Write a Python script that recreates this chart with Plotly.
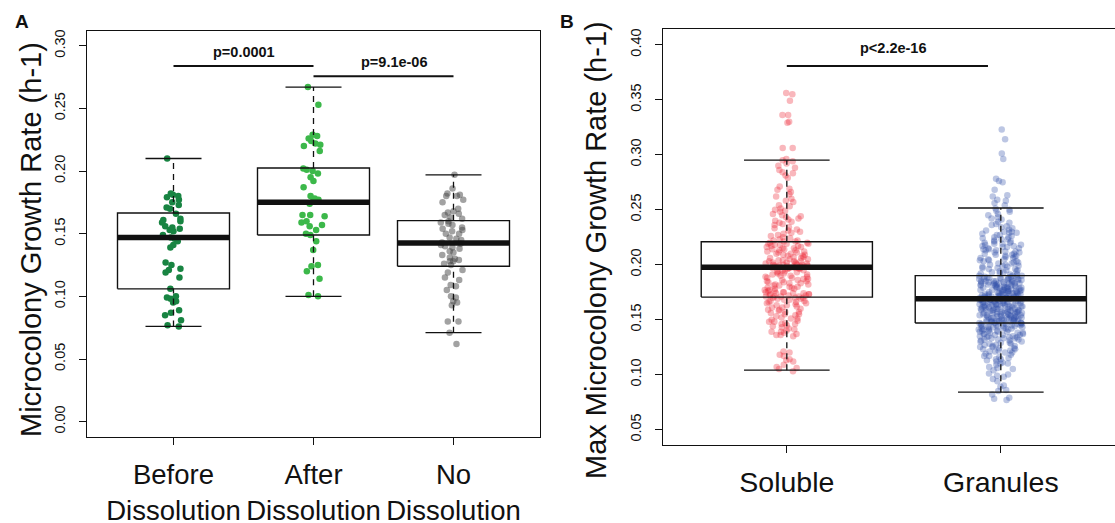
import plotly.graph_objects as go

W, H = 1115, 523
FONT = "Liberation Sans, Arial, Helvetica, sans-serif"
INK = "#111111"

# ---------------- Panel A data ----------------
a_categories = ["Before<br>Dissolution", "After<br>Dissolution", "No<br>Dissolution"]
a_positions = [1, 2, 3]
before_vals = [0.210, 0.182, 0.181, 0.180, 0.179, 0.177, 0.175, 0.173, 0.171, 0.170,
               0.166, 0.162, 0.161, 0.160, 0.159, 0.156, 0.155, 0.154, 0.153, 0.152,
               0.149, 0.147, 0.146, 0.144, 0.141, 0.139, 0.127, 0.125, 0.122, 0.121,
               0.119, 0.115, 0.106, 0.100, 0.099, 0.098, 0.096, 0.095, 0.089, 0.087,
               0.085, 0.081, 0.077, 0.076]
after_vals = [0.267, 0.253, 0.229, 0.228, 0.226, 0.224, 0.222, 0.221, 0.220, 0.216,
              0.202, 0.201, 0.200, 0.198, 0.195, 0.192, 0.187, 0.180, 0.178, 0.177,
              0.176, 0.174, 0.165, 0.165, 0.164, 0.160, 0.159, 0.157, 0.156, 0.153,
              0.150, 0.149, 0.144, 0.137, 0.125, 0.124, 0.120, 0.114, 0.101, 0.100]
no_vals = [0.197, 0.186, 0.182, 0.181, 0.180, 0.180, 0.177, 0.175, 0.170, 0.168,
           0.167, 0.166, 0.165, 0.163, 0.162, 0.160, 0.159, 0.158, 0.157, 0.155,
           0.154, 0.153, 0.152, 0.150, 0.150, 0.147, 0.146, 0.145, 0.143, 0.142,
           0.141, 0.140, 0.139, 0.138, 0.136, 0.135, 0.133, 0.131, 0.130, 0.129,
           0.128, 0.128, 0.126, 0.125, 0.121, 0.119, 0.115, 0.113, 0.109, 0.108,
           0.105, 0.100, 0.099, 0.096, 0.095, 0.093, 0.080, 0.080, 0.071, 0.062]
a_colors = ["rgba(24,132,66,1)", "rgba(60,184,74,1)", "rgba(70,70,70,0.5)"]
# box statistics
a_lower = [0.076, 0.100, 0.071]
a_q1 = [0.106, 0.149, 0.124]
a_med = [0.147, 0.175, 0.1425]
a_q3 = [0.1665, 0.2024, 0.1604]
a_upper = [0.210, 0.267, 0.197]
a_yticks = [0.00, 0.05, 0.10, 0.15, 0.20, 0.25, 0.30]
a_tick_text = ["0.00", "0.05", "0.10", "0.15", "0.20", "0.25", "0.30"]
a_pvals = ["p=0.0001", "p=9.1e-06"]
a_bar_from = [1, 2]
a_bar_to = [2, 3]
a_bar_y = [0.2838, 0.2756]
a_text_x = [1.5, 2.58]
a_text_y = [0.2953, 0.2873]

# ---------------- Panel B data ----------------
b_categories = ["Soluble", "Granules"]
b_positions = [1, 2]
soluble_vals = [
    0.356, 0.355, 0.349, 0.336, 0.336, 0.330, 0.329, 0.306, 0.306,
    0.296, 0.295, 0.294, 0.292, 0.290, 0.288, 0.286, 0.284, 0.283, 0.281, 0.279,
    0.271, 0.269, 0.268, 0.266, 0.264, 0.262, 0.260, 0.258, 0.257,
    0.254, 0.253, 0.251, 0.250, 0.249, 0.248, 0.246, 0.245,
    0.244, 0.243, 0.242, 0.241, 0.240, 0.239, 0.238, 0.237, 0.236,
    0.234, 0.233, 0.232, 0.231, 0.230, 0.229, 0.228, 0.227, 0.226, 0.225, 0.224,
    0.223, 0.222, 0.222, 0.221, 0.221,
    0.220, 0.220, 0.219, 0.219, 0.219, 0.218, 0.218, 0.217, 0.217, 0.216, 0.216,
    0.215, 0.215, 0.214, 0.214, 0.213, 0.213, 0.212, 0.212, 0.211, 0.211, 0.210,
    0.210, 0.209, 0.209, 0.208, 0.208, 0.207, 0.207, 0.206, 0.206, 0.205, 0.205,
    0.204, 0.204, 0.203, 0.203, 0.203, 0.202, 0.202, 0.202, 0.201, 0.201, 0.201,
    0.200, 0.200, 0.200, 0.200, 0.199, 0.199, 0.199, 0.199, 0.198, 0.198, 0.198,
    0.198, 0.198, 0.197, 0.197, 0.197, 0.197, 0.197,
    0.197, 0.196, 0.196, 0.195, 0.195, 0.194, 0.194, 0.193, 0.193, 0.192, 0.192,
    0.191, 0.191, 0.190, 0.190, 0.189, 0.189, 0.188, 0.188, 0.187, 0.187, 0.186,
    0.186, 0.185, 0.185, 0.184, 0.184, 0.183, 0.183, 0.182, 0.182, 0.181, 0.181,
    0.180, 0.180, 0.179, 0.179, 0.178, 0.178, 0.177, 0.177, 0.176, 0.176, 0.175,
    0.175, 0.175, 0.174, 0.174, 0.174, 0.173, 0.173, 0.173, 0.172, 0.172, 0.172,
    0.171, 0.171, 0.171, 0.171, 0.170, 0.170, 0.170,
    0.169, 0.169, 0.168, 0.168, 0.167, 0.167, 0.166, 0.166, 0.165, 0.165, 0.164,
    0.163, 0.163, 0.162, 0.161, 0.161, 0.160, 0.159, 0.159, 0.158, 0.157, 0.157,
    0.156, 0.155, 0.155, 0.154, 0.153, 0.152, 0.151, 0.151, 0.150, 0.149, 0.148,
    0.148, 0.147, 0.146, 0.146, 0.145, 0.144, 0.143, 0.142, 0.141, 0.140, 0.139,
    0.139, 0.138, 0.137, 0.136, 0.136, 0.135,
    0.121, 0.120, 0.118, 0.117, 0.114, 0.113, 0.112, 0.109, 0.107, 0.106, 0.105, 0.103]
granules_vals = [
    0.323, 0.314, 0.301, 0.296, 0.278, 0.276, 0.275, 0.268, 0.263, 0.262, 0.259,
    0.258, 0.256, 0.254,
    0.251, 0.250, 0.249, 0.248, 0.246, 0.245, 0.243, 0.242, 0.241,
    0.239, 0.238, 0.237, 0.236, 0.235, 0.234, 0.233, 0.232, 0.231, 0.230, 0.230,
    0.229, 0.229, 0.228, 0.227, 0.227, 0.226, 0.225, 0.225, 0.224, 0.223, 0.223,
    0.222, 0.221, 0.221, 0.220, 0.220,
    0.219, 0.219, 0.218, 0.218, 0.217, 0.217, 0.216, 0.216, 0.215, 0.215, 0.214,
    0.214, 0.213, 0.213, 0.212, 0.212, 0.211, 0.211, 0.210, 0.210,
    0.209, 0.209, 0.208, 0.208, 0.207, 0.207, 0.206, 0.206, 0.205, 0.205, 0.204,
    0.204, 0.203, 0.203, 0.202, 0.202, 0.201, 0.201, 0.200, 0.200,
    0.199, 0.199, 0.198, 0.198, 0.197, 0.197, 0.196, 0.196, 0.195, 0.195, 0.194,
    0.194, 0.193, 0.193, 0.192, 0.192, 0.191, 0.191, 0.190, 0.190,
    0.190, 0.189, 0.189, 0.189, 0.188, 0.188, 0.188, 0.188, 0.187, 0.187, 0.187,
    0.187, 0.187, 0.186, 0.186, 0.186, 0.186, 0.185, 0.185, 0.185, 0.185, 0.185,
    0.184, 0.184, 0.184, 0.184, 0.183, 0.183, 0.183, 0.183, 0.183, 0.182, 0.182,
    0.182, 0.182, 0.182, 0.181, 0.181, 0.181, 0.181, 0.180, 0.180, 0.180, 0.180,
    0.180, 0.179, 0.179, 0.179, 0.179, 0.179, 0.178, 0.178, 0.178, 0.178, 0.177,
    0.177, 0.177, 0.177, 0.177, 0.176, 0.176, 0.176, 0.176, 0.176, 0.175, 0.175,
    0.175, 0.175, 0.175, 0.174, 0.174, 0.174, 0.174, 0.174, 0.173, 0.173, 0.173,
    0.173, 0.173, 0.172, 0.172, 0.172, 0.172, 0.172, 0.171, 0.171, 0.171, 0.171,
    0.171, 0.170, 0.170, 0.170, 0.170, 0.170, 0.170, 0.169, 0.169, 0.169, 0.169,
    0.169, 0.169,
    0.168, 0.168, 0.168, 0.168, 0.168, 0.167, 0.167, 0.167, 0.167, 0.167, 0.166,
    0.166, 0.166, 0.166, 0.166, 0.165, 0.165, 0.165, 0.165, 0.165, 0.164, 0.164,
    0.164, 0.164, 0.164, 0.163, 0.163, 0.163, 0.163, 0.163, 0.162, 0.162, 0.162,
    0.162, 0.162, 0.161, 0.161, 0.161, 0.161, 0.161, 0.160, 0.160, 0.160, 0.160,
    0.160, 0.159, 0.159, 0.159, 0.159, 0.159, 0.158, 0.158, 0.158, 0.158, 0.158,
    0.157, 0.157, 0.157, 0.157, 0.157, 0.156, 0.156, 0.156, 0.156, 0.156, 0.155,
    0.155, 0.155, 0.155, 0.155, 0.154, 0.154, 0.154, 0.154, 0.154, 0.153, 0.153,
    0.153, 0.153, 0.153, 0.152, 0.152, 0.152, 0.152, 0.152, 0.151, 0.151, 0.151,
    0.151, 0.151, 0.150, 0.150, 0.150, 0.150, 0.150, 0.149, 0.149, 0.149, 0.149,
    0.149, 0.148, 0.148, 0.148, 0.148, 0.148, 0.147, 0.147, 0.147, 0.147, 0.147,
    0.146, 0.146, 0.146, 0.146, 0.145, 0.145, 0.145, 0.145, 0.144, 0.144, 0.144,
    0.144, 0.143, 0.143, 0.143, 0.143, 0.142, 0.142, 0.142, 0.142, 0.141, 0.141,
    0.141, 0.141, 0.140, 0.140, 0.140, 0.139, 0.139, 0.139, 0.138, 0.138, 0.138,
    0.137, 0.137, 0.137, 0.136, 0.136, 0.136, 0.135, 0.135, 0.135, 0.134, 0.134,
    0.134, 0.133, 0.133, 0.133, 0.132, 0.132, 0.132, 0.131, 0.131, 0.130, 0.130,
    0.129, 0.129, 0.128, 0.128, 0.127, 0.127, 0.126, 0.126, 0.125, 0.125, 0.124,
    0.124, 0.123, 0.123, 0.122, 0.122, 0.121, 0.121, 0.120, 0.120, 0.119, 0.118,
    0.117, 0.117, 0.116, 0.115, 0.114, 0.114, 0.113, 0.112, 0.111, 0.110, 0.110,
    0.109, 0.107, 0.106, 0.105, 0.104, 0.101, 0.100, 0.099, 0.098, 0.096,
    0.094, 0.090, 0.089, 0.086, 0.085, 0.082, 0.079, 0.078, 0.077]
b_colors = ["rgba(236,36,52,0.33)", "rgba(52,82,170,0.33)"]
b_lower = [0.104, 0.084]
b_q1 = [0.1705, 0.147]
b_med = [0.1976, 0.169]
b_q3 = [0.2208, 0.190]
b_upper = [0.295, 0.2515]
b_yticks = [0.05, 0.10, 0.15, 0.20, 0.25, 0.30, 0.35, 0.40]
b_tick_text = ["0.05", "0.10", "0.15", "0.20", "0.25", "0.30", "0.35", "0.40"]
b_pval = "p<2.2e-16"
b_bar_from, b_bar_to, b_bar_y = 1, 1.94, 0.3806
b_text_x, b_text_y = 1.5, 0.3967

# ---------------- layout geometry (pixels) ----------------
A_L, A_R, A_T, A_B = 86.7, 540.3, 30.7, 436.7
B_L, B_T, B_B = 662.7, 29.3, 445.0
B_UNIT = 214.0  # px per category step in panel B


def px(x):
    return x / W


def py(y):
    return 1 - y / H


fig = go.Figure()


def add_r_boxes(positions, lower, q1, med, q3, upper, xa, ya):
    bw, cw = 0.4, 0.2
    rx, ry, mx, my, wx, wy, cx, cy = [], [], [], [], [], [], [], []
    for p, lo, a, m, b, hi in zip(positions, lower, q1, med, q3, upper):
        rx += [p - bw, p + bw, p + bw, p - bw, p - bw, None]
        ry += [a, a, b, b, a, None]
        mx += [p - bw, p + bw, None]
        my += [m, m, None]
        wx += [p, p, None, p, p, None]
        wy += [b, hi, None, lo, a, None]
        cx += [p - cw, p + cw, None, p - cw, p + cw, None]
        cy += [hi, hi, None, lo, lo, None]
    common = dict(mode="lines", showlegend=False, hoverinfo="skip", xaxis=xa, yaxis=ya)
    fig.add_trace(go.Scatter(x=wx, y=wy, line=dict(color=INK, width=1.3, dash="6px,5px"), **common))
    fig.add_trace(go.Scatter(x=cx, y=cy, line=dict(color=INK, width=1.3), **common))
    fig.add_trace(go.Scatter(x=rx, y=ry, line=dict(color=INK, width=1.4), **common))
    fig.add_trace(go.Scatter(x=mx, y=my, line=dict(color=INK, width=5.5), **common))


def add_points(vals, pos, color, jitter, xa, ya, size):
    fig.add_trace(go.Box(
        y=vals, x0=pos, boxpoints="all", jitter=jitter, pointpos=0, width=0.8,
        line=dict(width=0, color="rgba(0,0,0,0)"), fillcolor="rgba(0,0,0,0)",
        marker=dict(color=color, size=size, line=dict(width=0)),
        showlegend=False, hoverinfo="y", xaxis=xa, yaxis=ya))


# Panel A
for vals, pos, col in zip([before_vals, after_vals, no_vals], a_positions, a_colors):
    add_points(vals, pos, col, 0.24, "x", "y", 6.5)
add_r_boxes(a_positions, a_lower, a_q1, a_med, a_q3, a_upper, "x", "y")

# Panel B
for vals, pos, col in zip([soluble_vals, granules_vals], b_positions, b_colors):
    add_points(vals, pos, col, 0.26, "x2", "y2", 6.5)
add_r_boxes(b_positions, b_lower, b_q1, b_med, b_q3, b_upper, "x2", "y2")

# significance bars
sig_x, sig_y = [], []
for x0, x1, yv in zip(a_bar_from, a_bar_to, a_bar_y):
    sig_x += [x0, x1, None]
    sig_y += [yv, yv, None]
fig.add_trace(go.Scatter(x=sig_x, y=sig_y, mode="lines", line=dict(color=INK, width=2),
                         showlegend=False, hoverinfo="skip", xaxis="x", yaxis="y"))
fig.add_trace(go.Scatter(x=[b_bar_from, b_bar_to], y=[b_bar_y, b_bar_y], mode="lines",
                         line=dict(color=INK, width=2), showlegend=False, hoverinfo="skip",
                         xaxis="x2", yaxis="y2"))

C = dict(showarrow=False, xanchor="center", yanchor="middle")
annotations = []
for t, xv, yv in zip(a_pvals, a_text_x, a_text_y):
    annotations.append(dict(text="<b>%s</b>" % t, x=xv, y=yv, xref="x", yref="y",
                            font=dict(size=14.5, color=INK, family=FONT), **C))
annotations.append(dict(text="<b>%s</b>" % b_pval, x=b_text_x, y=b_text_y, xref="x2", yref="y2",
                        font=dict(size=14.5, color=INK, family=FONT), **C))
annotations.append(dict(text="<b>A</b>", x=px(21.7), y=py(21.5), xref="paper", yref="paper",
                        font=dict(size=19, color=INK, family=FONT), **C))
annotations.append(dict(text="<b>B</b>", x=px(567), y=py(21.5), xref="paper", yref="paper",
                        font=dict(size=19, color=INK, family=FONT), **C))
annotations.append(dict(text="Microcolony Growth Rate (h-1)", textangle=-90,
                        x=px(31), y=py(240), xref="paper", yref="paper",
                        font=dict(size=29, color=INK, family=FONT), **C))
annotations.append(dict(text="Max Microcolony Growth Rate (h-1)", textangle=-90,
                        x=px(596), y=py(250), xref="paper", yref="paper",
                        font=dict(size=29, color=INK, family=FONT), **C))

axis_common = dict(showgrid=False, zeroline=False, showline=True, linecolor=INK, linewidth=1.4,
                   ticks="outside", ticklen=7, tickwidth=1.3, tickcolor=INK, automargin=False)

fig.update_layout(
    width=W, height=H, autosize=False, margin=dict(l=0, r=0, t=0, b=0),
    paper_bgcolor="white", plot_bgcolor="white", showlegend=False, boxmode="overlay",
    font=dict(family=FONT, color=INK),
    annotations=annotations,
    xaxis=dict(domain=[px(A_L), px(A_R)], range=[0.38, 3.62], tickvals=a_positions,
               ticktext=a_categories, tickfont=dict(size=27.5), tickangle=0, mirror=True,
               anchor="y", ticklabelstandoff=6, **axis_common),
    yaxis=dict(domain=[py(A_B), py(A_T)], range=[-0.012, 0.312], tickvals=a_yticks,
               ticktext=a_tick_text, tickangle=-90, tickfont=dict(size=14.5), mirror=True,
               anchor="x", ticklabelstandoff=8, **axis_common),
    xaxis2=dict(domain=[px(B_L), 1.0], range=[0.42, 0.42 + (W - B_L) / B_UNIT],
                tickvals=b_positions, ticktext=b_categories, tickfont=dict(size=28.5),
                tickangle=0, mirror=True, anchor="y2", ticklabelstandoff=5, **axis_common),
    yaxis2=dict(domain=[py(B_B), py(B_T)], range=[0.036, 0.414], tickvals=b_yticks,
                ticktext=b_tick_text, tickangle=-90, tickfont=dict(size=14.5), mirror=False,
                anchor="x2", ticklabelstandoff=8, **axis_common),
)

fig.write_html("out.html",
               config={"responsive": False, "displayModeBar": False},
               post_script="document.body.style.margin='0';document.body.style.overflow='hidden';")
